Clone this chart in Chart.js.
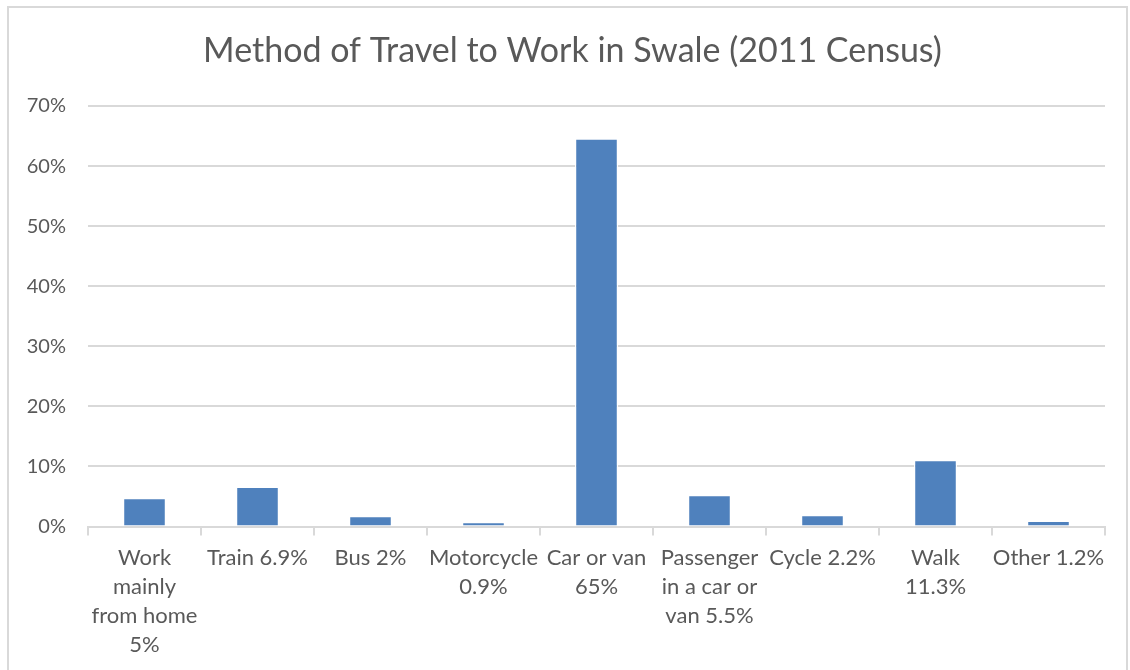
<!DOCTYPE html>
<html>
<head>
<meta charset="utf-8">
<script src="https://cdn.jsdelivr.net/npm/chart.js@4"></script>
<style>
  body { margin: 0; background: #fff; }
  #wrap { position: relative; width: 1130px; height: 670px; }
</style>
</head>
<body>
<div id="wrap"><canvas id="travelChart" width="1130" height="670"></canvas></div>
<script>
// categories (multi-line like the excel axis)
var travelLabels = [
  ['Work', 'mainly', 'from home', '5%'],
  ['Train 6.9%'],
  ['Bus 2%'],
  ['Motorcycle', '0.9%'],
  ['Car or van', '65%'],
  ['Passenger', 'in a car or', 'van 5.5%'],
  ['Cycle 2.2%'],
  ['Walk', '11.3%'],
  ['Other 1.2%']
];

// bar heights (percent)
var travelShare = [4.75, 6.6, 1.75, 0.75, 64.6, 5.25, 1.9, 11.05, 0.95];

var yTicks = [0, 10, 20, 30, 40, 50, 60, 70];

var chartTitle = 'Method of Travel to Work in Swale (2011 Census)';

var txtColor = '#595959';
var lineGrey = '#d9d9d9';

// outer frame + title (excel centres the title on the whole box, not the plot)
var framePlugin = {
  id: 'frame',
  beforeDraw: function (chart) {
    var c = chart.ctx;
    c.save();
    c.fillStyle = '#fff';
    c.fillRect(0, 0, chart.width, chart.height);
    c.strokeStyle = lineGrey;
    c.lineWidth = 2;
    c.strokeRect(8, 7, chart.width - 11, chart.height + 10);

    c.fillStyle = txtColor;
    c.font = '400 34px Lato';
    c.textAlign = 'center';
    c.textBaseline = 'middle';
    c.fillText(chartTitle, (8 + chart.width - 3) / 2 + 5, 51);
    c.restore();
  }
};

const ctx = document.getElementById('travelChart');

var travelChart = new Chart(ctx, {
  type: 'bar',
  data: {
    labels: travelLabels,
    datasets: [{
      data: travelShare,
      backgroundColor: '#4F81BD',
      borderColor: '#ffffff',
      borderWidth: 1.2,
      barPercentage: 0.38,
      categoryPercentage: 1
    }]
  },
  plugins: [framePlugin],
  options: {
    responsive: false,
    animation: false,
    layout: { padding: { top: 106, left: 10, right: 25, bottom: 0 } },
    plugins: {
      legend: { display: false },
      tooltip: { enabled: false },
      title: { display: false }
    },
    scales: {
      x: {
        grid: {
          offset: true,
          drawOnChartArea: false,
          color: lineGrey,
          tickLength: 9,
          lineWidth: 2
        },
        border: { color: lineGrey, width: 2 },
        ticks: {
          color: txtColor,
          font: { family: 'Lato', size: 22, lineHeight: 1.32 },
          maxRotation: 0,
          autoSkip: false,
          padding: 8
        },
        afterFit: function (scale) { scale.height = 143.5; }
      },
      y: {
        min: 0,
        max: 70,
        afterBuildTicks: function (scale) {
          scale.ticks = yTicks.map(function (v) { return { value: v }; });
        },
        grid: { color: lineGrey, lineWidth: 2, drawTicks: false },
        border: { display: false },
        ticks: {
          color: txtColor,
          font: { family: 'Lato', size: 20 },
          padding: 22,
          callback: function (v) { return v + '%'; }
        },
        afterFit: function (scale) { scale.width = 78; }
      }
    }
  }
});
</script>
</body>
</html>
